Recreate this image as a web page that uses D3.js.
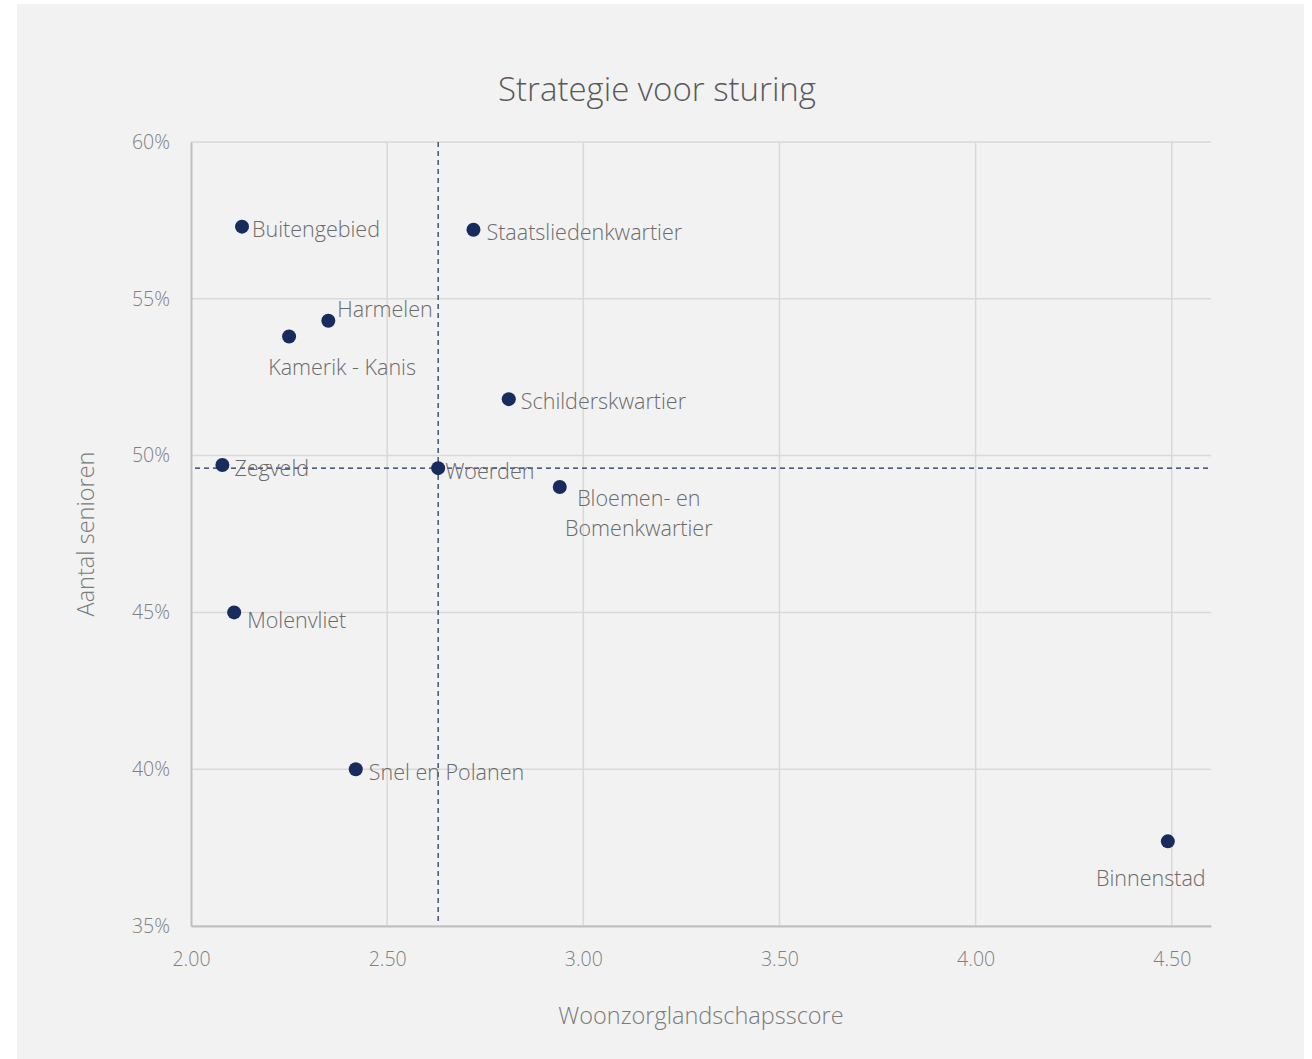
<!DOCTYPE html>
<html>
<head>
<meta charset="utf-8">
<script src="https://cdn.jsdelivr.net/npm/d3@7"></script>
<style>
  html, body { margin: 0; padding: 0; background: #ffffff; }
  svg { display: block; }
  text { font-family: "Open Sans", "Noto Sans", sans-serif; font-weight: 300; }
</style>
</head>
<body>
<svg id="chart" width="1312" height="1059"></svg>
<script>
// Wijken: woonzorglandschapsscore (x) tegen aandeel senioren (y, %)
const names = ["Buitengebied", "Staatsliedenkwartier", "Harmelen", "Kamerik - Kanis",
  "Schilderskwartier", "Zegveld", "Woerden", "Bloemen- en Bomenkwartier",
  "Molenvliet", "Snel en Polanen", "Binnenstad"];
const scores = [2.13, 2.72, 2.35, 2.25, 2.81, 2.08, 2.63, 2.94, 2.11, 2.42, 4.49];
const seniors = [57.3, 57.2, 54.3, 53.8, 51.8, 49.7, 49.6, 49.0, 45.0, 40.0, 37.7];

// Referentielijnen: gemiddelde van de gemeente (Woerden)
const refScore = 2.63;
const refSeniors = 49.6;

const xTicks = [2.0, 2.5, 3.0, 3.5, 4.0, 4.5];
const yTicks = [35, 40, 45, 50, 55, 60];

const title = "Strategie voor sturing";
const xTitle = "Woonzorglandschapsscore";
const yTitle = "Aantal senioren";

// Label placement per point: [dx, dy, anchor] relative to the dot
const labelPlacement = {
  "Buitengebied": [10, 1, "start"],
  "Staatsliedenkwartier": [13, 1, "start"],
  "Harmelen": [9, -13, "start"],
  "Kamerik - Kanis": [53, 30, "middle"],
  "Schilderskwartier": [12, 1, "start"],
  "Zegveld": [12, 2, "start"],
  "Woerden": [7, 2, "start"],
  "Bloemen- en Bomenkwartier": [79, 10, "middle"],
  "Molenvliet": [13, 7, "start"],
  "Snel en Polanen": [13, 2, "start"],
  "Binnenstad": [-17, 36, "middle"]
};
const labelLines = { "Bloemen- en Bomenkwartier": ["Bloemen- en", "Bomenkwartier"] };

const svg = d3.select("#chart");

// Chart area background
svg.append("rect").attr("x", 17).attr("y", 4).attr("width", 1287).attr("height", 1055)
  .attr("fill", "#f2f2f2");

const plot = { left: 191, right: 1211, top: 142, bottom: 926 };

const x = d3.scaleLinear().domain([2.0, 4.6]).range([plot.left, plot.right]);
const y = d3.scaleLinear().domain([35, 60]).range([plot.bottom, plot.top]);

// Gridlines
const g = svg.append("g");
g.selectAll("line.hgrid").data(yTicks).enter().append("line")
  .attr("class", "hgrid")
  .attr("x1", plot.left).attr("x2", plot.right)
  .attr("y1", d => y(d)).attr("y2", d => y(d))
  .attr("stroke", "#d9d9d9").attr("stroke-width", 1.5);
g.selectAll("line.vgrid").data(xTicks.filter(d => d > 2.0)).enter().append("line")
  .attr("class", "vgrid")
  .attr("x1", d => x(d)).attr("x2", d => x(d))
  .attr("y1", plot.top).attr("y2", plot.bottom)
  .attr("stroke", "#d9d9d9").attr("stroke-width", 1.5);

// Axes
const xAxis = d3.axisBottom(x).tickValues(xTicks).tickFormat(d3.format(".2f")).tickSize(0).tickPadding(26);
const yAxis = d3.axisLeft(y).tickValues(yTicks).tickFormat(d => d + "%").tickSize(0).tickPadding(21);

const gx = svg.append("g").attr("transform", `translate(0,${plot.bottom})`).call(xAxis);
gx.select(".domain").attr("stroke", "#bfbfbf").attr("stroke-width", 2);
gx.selectAll("text").attr("fill", "#808080").attr("font-size", 19.5).attr("font-family", "\"Open Sans\", sans-serif");

const gy = svg.append("g").attr("transform", `translate(${plot.left},0)`).call(yAxis);
gy.select(".domain").attr("stroke", "#bfbfbf").attr("stroke-width", 2);
gy.selectAll("text").attr("fill", "#808080").attr("font-size", 19.5).attr("font-family", "\"Open Sans\", sans-serif");

// Reference lines (dashed)
svg.append("line")
  .attr("x1", x(refScore)).attr("x2", x(refScore))
  .attr("y1", plot.top).attr("y2", plot.bottom - 5)
  .attr("stroke", "#1a2d5e").attr("stroke-width", 1.2).attr("stroke-dasharray", "5,4");
svg.append("line")
  .attr("x1", plot.left + 4).attr("x2", plot.right)
  .attr("y1", y(refSeniors)).attr("y2", y(refSeniors))
  .attr("stroke", "#1a2d5e").attr("stroke-width", 1.2).attr("stroke-dasharray", "5,4");

// Points
const pts = names.map((n, i) => ({ name: n, score: scores[i], pct: seniors[i] }));
svg.append("g").selectAll("circle").data(pts).enter().append("circle")
  .attr("cx", d => x(d.score)).attr("cy", d => y(d.pct)).attr("r", 7)
  .attr("fill", "#172b5c");

// Point labels
const lg = svg.append("g");
pts.forEach(d => {
  const [dx, dy, anchor] = labelPlacement[d.name];
  const lines = labelLines[d.name] || [d.name];
  const t = lg.append("text")
    .attr("x", x(d.score) + dx).attr("y", y(d.pct) + dy)
    .attr("text-anchor", anchor).attr("dominant-baseline", "central")
    .attr("font-size", 21.5).attr("fill", "#6b6b6b");
  lines.forEach((l, i) => {
    t.append("tspan").attr("x", x(d.score) + dx).attr("dy", i === 0 ? 0 : 30).text(l);
  });
});

// Titles
svg.append("text").attr("x", 657).attr("y", 88).attr("text-anchor", "middle")
  .attr("dominant-baseline", "central").attr("font-size", 33).attr("fill", "#595959").text(title);
svg.append("text").attr("x", 701).attr("y", 1015).attr("text-anchor", "middle")
  .attr("dominant-baseline", "central").attr("font-size", 23.5).attr("fill", "#7a7a7a").text(xTitle);
svg.append("text").attr("transform", "translate(85,534) rotate(-90)").attr("text-anchor", "middle")
  .attr("dominant-baseline", "central").attr("font-size", 23.5).attr("fill", "#7a7a7a").text(yTitle);
</script>
</body>
</html>
